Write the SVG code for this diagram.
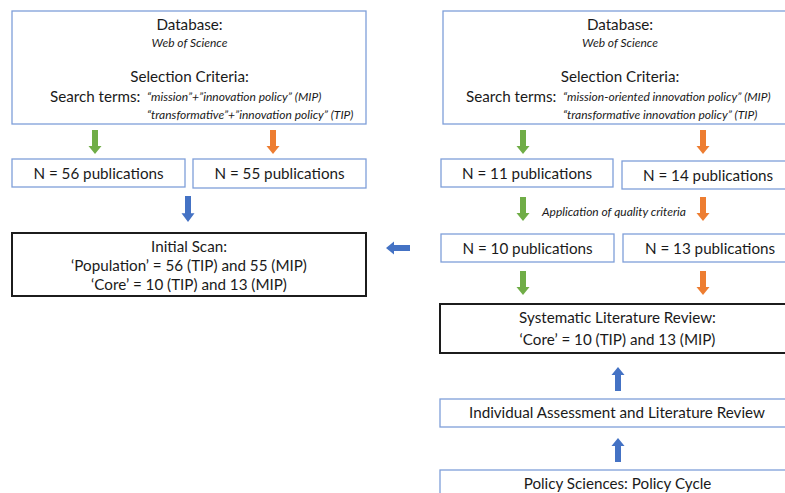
<svg xmlns="http://www.w3.org/2000/svg" width="785" height="493" viewBox="0 0 785 493">
  <style>
    .box { fill: #ffffff; stroke: #7f9fd9; stroke-width: 1.3; }
    .main { fill: #ffffff; stroke: #1c1c1c; stroke-width: 2; }
    text { font-family: Lato, "Open Sans", sans-serif; fill: #1a1a1a; }
    .t { font-size: 15.2px; text-anchor: middle; }
    .tl { font-size: 15.2px; }
    .it { font-size: 12px; font-style: italic; }
    .itc { font-size: 12px; font-style: italic; text-anchor: middle; }
    .green { fill: #70ad47; }
    .orange { fill: #ed7d31; }
    .blue { fill: #4472c4; }
  </style>
  <defs>
    <!-- block arrow pointing down, origin at the tail centre -->
    <path id="arrow" d="M-3,0 H3 V16 H6.5 L0,24 L-6.5,16 H-3 Z"/>
  </defs>
  <rect width="785" height="493" fill="#ffffff"/>

  <!-- left column -->
  <g id="search-left">
    <rect class="box" x="12" y="11" width="354" height="113"/>
    <text class="t" x="189.5" y="30">Database:</text>
    <text class="itc" x="189.5" y="47">Web of Science</text>
    <text class="t" x="189.5" y="82">Selection Criteria:</text>
    <text class="tl" x="50" y="102">Search terms:</text>
    <text class="it" x="147" y="101">“mission”+”innovation policy” (MIP)</text>
    <text class="it" x="147" y="119">“transformative”+”innovation policy” (TIP)</text>
  </g>
  <g id="n56">
    <rect class="box" x="12" y="159" width="173" height="28"/>
    <text class="t" x="98.5" y="179">N = 56 publications</text>
  </g>
  <g id="n55">
    <rect class="box" x="193" y="159" width="173" height="29"/>
    <text class="t" x="279.5" y="179">N = 55 publications</text>
  </g>
  <g id="initial-scan">
    <rect class="main" x="12" y="233" width="354" height="63"/>
    <text class="t" x="189" y="252">Initial Scan:</text>
    <text class="t" x="189" y="271">‘Population’ = 56 (TIP) and 55 (MIP)</text>
    <text class="t" x="189" y="290">‘Core’ = 10 (TIP) and 13 (MIP)</text>
  </g>

  <!-- right column -->
  <g id="search-right">
    <rect class="box" x="443" y="11" width="360" height="113"/>
    <text class="t" x="620" y="30">Database:</text>
    <text class="itc" x="620" y="47">Web of Science</text>
    <text class="t" x="620" y="82">Selection Criteria:</text>
    <text class="tl" x="466" y="102">Search terms:</text>
    <text class="it" x="563" y="101">“mission-oriented innovation policy” (MIP)</text>
    <text class="it" x="563" y="119">“transformative innovation policy” (TIP)</text>
  </g>
  <g id="n11">
    <rect class="box" x="441" y="159" width="172" height="28"/>
    <text class="t" x="527" y="179">N = 11 publications</text>
  </g>
  <g id="n14">
    <rect class="box" x="622" y="161" width="180" height="28"/>
    <text class="t" x="708" y="181">N = 14 publications</text>
  </g>
  <g id="n10">
    <rect class="box" x="441" y="234" width="173" height="28"/>
    <text class="t" x="527.5" y="254">N = 10 publications</text>
  </g>
  <g id="n13">
    <rect class="box" x="623" y="234" width="180" height="28"/>
    <text class="t" x="710" y="254">N = 13 publications</text>
  </g>
  <g id="systematic-review">
    <rect class="main" x="440" y="304" width="362" height="49"/>
    <text class="t" x="617.5" y="323">Systematic Literature Review:</text>
    <text class="t" x="617.5" y="345">‘Core’ = 10 (TIP) and 13 (MIP)</text>
  </g>
  <g id="assessment">
    <rect class="box" x="440" y="399" width="362" height="28"/>
    <text class="t" x="617" y="418">Individual Assessment and Literature Review</text>
  </g>
  <g id="policy-cycle">
    <rect class="box" x="440" y="470" width="362" height="40"/>
    <text class="t" x="617.5" y="489">Policy Sciences: Policy Cycle</text>
  </g>

  <!-- connectors -->
  <g id="connectors">
    <use href="#arrow" class="green" x="95" y="130"/>
    <use href="#arrow" class="orange" x="273" y="130"/>
    <use href="#arrow" class="blue" transform="translate(188,196) scale(1,1.08)"/>
    <use href="#arrow" class="green" x="523" y="130"/>
    <use href="#arrow" class="orange" x="703" y="130"/>
    <use href="#arrow" class="green" x="523" y="197"/>
    <use href="#arrow" class="orange" x="703" y="197"/>
    <text class="itc" x="614" y="216">Application of quality criteria</text>
    <use href="#arrow" class="green" x="523" y="271"/>
    <use href="#arrow" class="orange" x="703" y="271"/>
    <use href="#arrow" class="blue" transform="translate(410,248) rotate(90)"/>
    <use href="#arrow" class="blue" transform="translate(618,391) rotate(180)"/>
    <use href="#arrow" class="blue" transform="translate(618,462) rotate(180)"/>
  </g>
</svg>
